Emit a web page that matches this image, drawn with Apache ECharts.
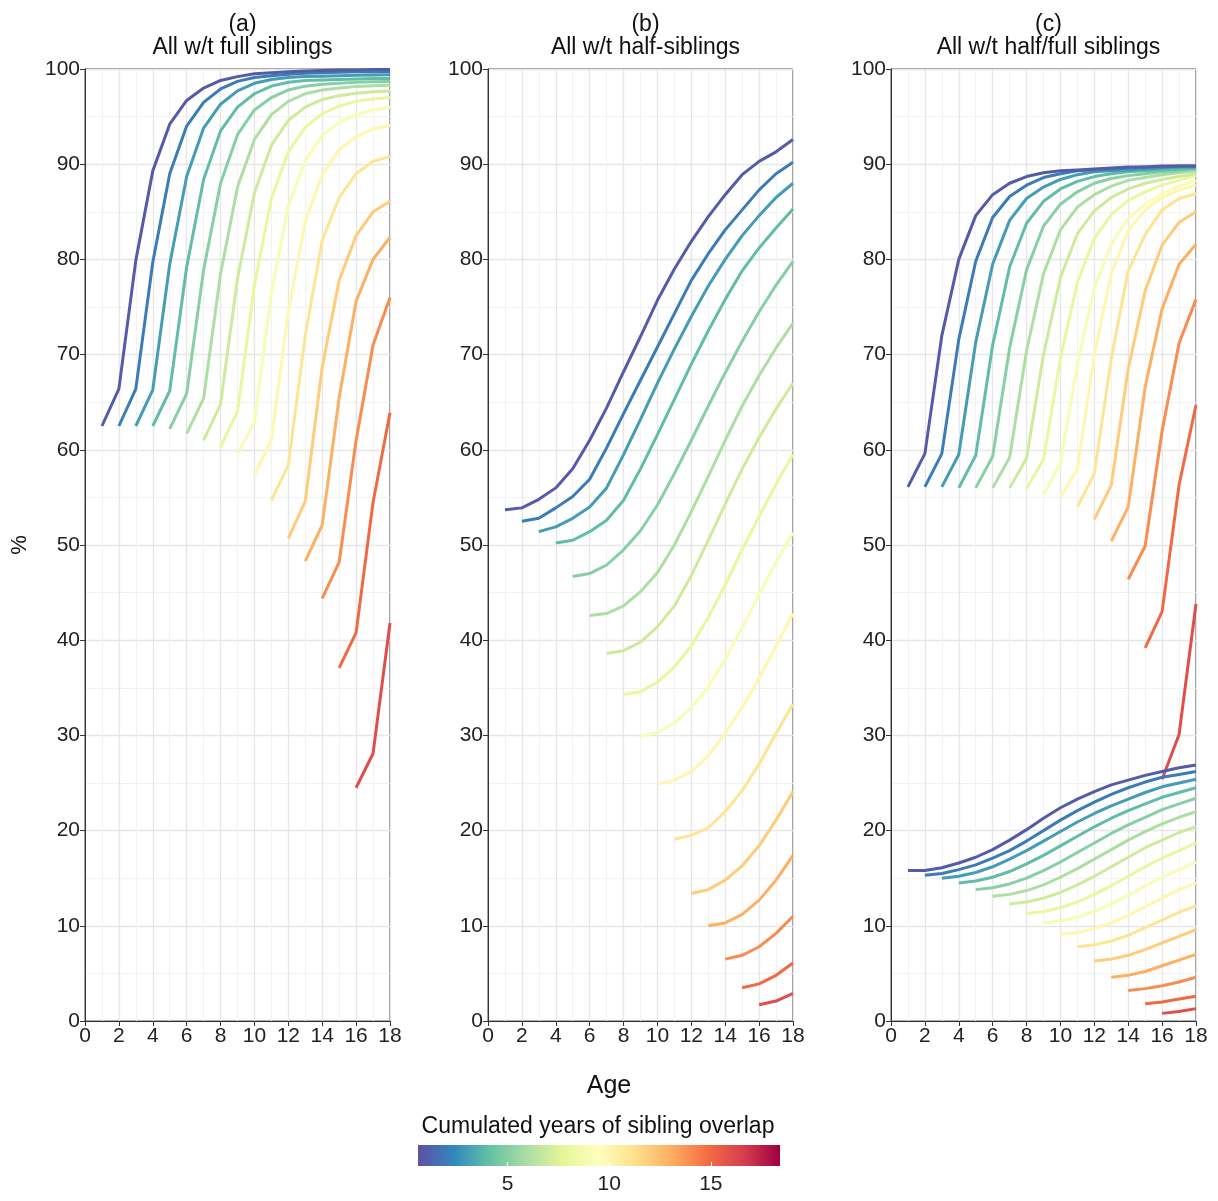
<!DOCTYPE html>
<html><head><meta charset="utf-8">
<script src="https://cdn.jsdelivr.net/npm/echarts@6/dist/echarts.min.js"></script>
<style>html,body{margin:0;padding:0;background:#fff}#c{width:1218px;height:1201px}</style>
</head><body><div id="c"></div>
<script>
// Each series k starts at age k (k = 1..16) and runs to age 18
const panelTitles = [["(a)","All w/t full siblings"],["(b)","All w/t half-siblings"],["(c)","All w/t half/full siblings"]];
const xTicks = [0,2,4,6,8,10,12,14,16,18];
const yTicks = [0,10,20,30,40,50,60,70,80,90,100];
const colorTicks = [5,10,15];

const panelA = [
 [62.5,66.4,79.9,89.3,94.2,96.7,98.0,98.8,99.2,99.5,99.6,99.7,99.8,99.85,99.9,99.9,99.95,99.95],
 [62.5,66.4,79.7,89.0,94.0,96.5,97.9,98.7,99.1,99.3,99.45,99.55,99.6,99.65,99.7,99.72,99.75],
 [62.5,66.3,79.5,88.7,93.8,96.3,97.7,98.5,98.9,99.1,99.2,99.25,99.3,99.35,99.38,99.4],
 [62.5,66.2,79.2,88.4,93.5,96.0,97.4,98.2,98.6,98.8,98.85,98.9,98.95,99.0,99.0],
 [62.2,65.9,78.9,88.0,93.1,95.7,97.0,97.8,98.2,98.4,98.5,98.6,98.65,98.7],
 [61.7,65.4,78.5,87.6,92.6,95.2,96.6,97.4,97.8,98.0,98.15,98.25,98.3],
 [61.0,64.8,78.0,87.0,92.0,94.6,96.0,96.8,97.2,97.45,97.6,97.7],
 [60.3,64.0,77.3,86.4,91.3,93.9,95.3,96.1,96.6,96.85,97.0],
 [59.6,62.9,76.5,85.6,90.4,93.0,94.4,95.2,95.7,96.0],
 [57.3,61.1,74.5,84.0,88.9,91.5,92.9,93.7,94.1],
 [54.7,58.4,72.0,82.0,86.5,89.0,90.3,90.8],
 [50.7,54.6,68.7,77.8,82.5,85.0,86.1],
 [48.3,52.1,65.5,75.6,80.0,82.3],
 [44.4,48.2,61.0,71.0,76.0],
 [37.1,40.8,54.5,63.9],
 [24.5,28.1,41.8]
];
const panelB = [
 [53.7,53.9,54.8,56.0,58.0,61.0,64.4,68.2,71.9,75.7,79.0,81.9,84.5,86.8,88.9,90.3,91.3,92.6],
 [52.5,52.8,53.9,55.1,56.9,60.2,63.8,67.3,70.8,74.3,77.8,80.6,83.1,85.2,87.3,89.0,90.2],
 [51.4,51.9,52.8,54.0,56.0,59.5,63.2,67.0,70.6,74.0,77.2,80.0,82.5,84.6,86.5,88.0],
 [50.2,50.5,51.4,52.6,54.7,58.0,61.6,65.3,69.0,72.5,75.8,78.8,81.2,83.3,85.3],
 [46.7,47.0,47.9,49.5,51.5,54.2,57.5,61.0,64.6,68.1,71.4,74.5,77.3,79.8],
 [42.6,42.8,43.6,45.1,47.1,50.0,53.5,57.2,61.0,64.6,67.8,70.7,73.3],
 [38.6,38.9,39.8,41.4,43.6,46.8,50.5,54.3,58.0,61.3,64.3,67.0],
 [34.3,34.6,35.6,37.2,39.4,42.4,45.8,49.5,53.0,56.4,59.5],
 [29.9,30.3,31.3,32.9,35.1,38.0,41.3,44.8,48.2,51.3],
 [24.9,25.3,26.2,27.9,30.2,32.9,36.0,39.4,42.8],
 [19.1,19.5,20.3,22.0,24.2,27.0,30.2,33.3],
 [13.4,13.8,14.8,16.3,18.4,21.1,24.1],
 [10.0,10.3,11.2,12.7,14.8,17.4],
 [6.5,6.9,7.8,9.2,11.0],
 [3.5,3.9,4.8,6.1],
 [1.7,2.1,2.9]
];
const panelCFull = [
 [56.1,59.6,72.0,80.0,84.6,86.8,88.0,88.7,89.1,89.3,89.4,89.5,89.6,89.7,89.7,89.8,89.8,89.8],
 [56.1,59.6,71.6,79.8,84.4,86.6,87.8,88.6,89.0,89.3,89.4,89.5,89.6,89.7,89.7,89.8,89.8],
 [56.1,59.5,71.3,79.5,84.1,86.4,87.6,88.4,88.9,89.2,89.3,89.4,89.5,89.6,89.7,89.7],
 [56.0,59.4,71.0,79.2,83.8,86.1,87.4,88.2,88.7,89.0,89.2,89.3,89.4,89.5,89.6],
 [56.0,59.3,70.7,78.9,83.5,85.8,87.1,88.0,88.5,88.8,89.0,89.2,89.3,89.5],
 [56.0,59.2,70.4,78.5,83.1,85.5,86.8,87.7,88.3,88.6,88.9,89.1,89.3],
 [56.0,59.1,70.0,78.1,82.7,85.1,86.5,87.4,88.0,88.4,88.7,89.0],
 [55.9,59.0,69.6,77.6,82.2,84.7,86.2,87.1,87.8,88.3,88.8],
 [55.3,58.6,69.0,77.0,81.6,84.3,85.8,86.9,87.7,88.3],
 [55.0,58.0,70.0,78.5,83.0,85.2,86.5,87.3,87.8],
 [54.0,57.5,69.6,78.8,82.6,85.2,86.4,86.9],
 [52.7,56.3,68.5,76.7,81.5,83.9,85.0],
 [50.4,54.0,66.6,74.8,79.5,81.6],
 [46.4,49.9,62.0,71.2,75.8],
 [39.2,43.0,56.3,64.7],
 [25.4,30.1,43.8]
];
const panelCHalf = [
 [15.8,15.8,16.1,16.6,17.2,18.0,19.0,20.1,21.3,22.4,23.3,24.1,24.8,25.3,25.8,26.2,26.6,26.9],
 [15.3,15.5,15.9,16.4,17.1,17.9,18.9,20.0,21.1,22.1,23.0,23.8,24.5,25.1,25.6,25.9,26.2],
 [15.0,15.2,15.6,16.2,17.0,17.9,18.9,19.9,20.9,21.8,22.6,23.3,24.0,24.6,25.0,25.4],
 [14.5,14.7,15.1,15.7,16.5,17.4,18.4,19.4,20.4,21.3,22.1,22.8,23.5,24.0,24.5],
 [13.8,14.0,14.4,15.0,15.8,16.7,17.7,18.7,19.7,20.6,21.4,22.2,22.8,23.4],
 [13.1,13.3,13.7,14.3,15.1,16.0,17.0,18.0,19.0,19.9,20.7,21.4,22.0],
 [12.3,12.5,12.9,13.5,14.3,15.2,16.2,17.2,18.2,19.0,19.8,20.4],
 [11.3,11.5,11.9,12.5,13.3,14.2,15.2,16.2,17.1,17.9,18.7],
 [10.3,10.5,10.9,11.5,12.3,13.2,14.2,15.1,15.9,16.7],
 [9.1,9.3,9.7,10.3,11.1,12.0,12.9,13.8,14.5],
 [7.8,8.0,8.4,9.0,9.8,10.6,11.4,12.1],
 [6.3,6.5,6.9,7.5,8.2,8.9,9.6],
 [4.6,4.8,5.2,5.8,6.4,7.0],
 [3.2,3.4,3.7,4.1,4.6],
 [1.8,2.0,2.3,2.6],
 [0.8,1.0,1.3]
];

const spectral = ['#5E4FA2','#3288BD','#66C2A5','#ABDDA4','#E6F598','#FFFFBF','#FEE08B','#FDAE61','#F46D43','#D53E4F','#9E0142'];
const cMin = 0.6, cMax = 18.4;
function hex(h){return [1,3,5].map(i=>parseInt(h.substr(i,2),16));}
function colorFor(v){
  let t=(v-cMin)/(cMax-cMin); t=Math.max(0,Math.min(1,t));
  const p=t*(spectral.length-1), i=Math.min(spectral.length-2,Math.floor(p)), f=p-i;
  const a=hex(spectral[i]), b=hex(spectral[i+1]);
  return 'rgb('+a.map((x,j)=>Math.round(x+(b[j]-x)*f)).join(',')+')';
}

const FONT='"Liberation Sans", Arial, sans-serif';
const lefts=[85,488,891], W=305, TOP=69, H=952;
const grids=[], xAxes=[], yAxes=[], series=[];
lefts.forEach((l,i)=>{
  grids.push({left:l,top:TOP,width:W,height:H,show:true,borderColor:'#333',borderWidth:1,backgroundColor:'transparent'});
  xAxes.push({type:'value',gridIndex:i,min:0,max:18,interval:2,
    axisLine:{lineStyle:{color:'#333'}},axisTick:{length:5,lineStyle:{color:'#333'}},
    axisLabel:{color:'#222',fontSize:21,fontFamily:FONT,margin:5},
    splitLine:{lineStyle:{color:'#e6e6e6',width:1.3}},
    minorTick:{show:false,splitNumber:2},minorSplitLine:{show:true,lineStyle:{color:'#f2f2f2',width:1}}});
  yAxes.push({type:'value',gridIndex:i,min:0,max:100,interval:10,
    axisLine:{show:true,lineStyle:{color:'#333'}},axisTick:{show:true,length:5,lineStyle:{color:'#333'}},
    axisLabel:{color:'#222',fontSize:21,fontFamily:FONT,margin:5},
    splitLine:{lineStyle:{color:'#e6e6e6',width:1.3}},
    minorTick:{show:false,splitNumber:2},minorSplitLine:{show:true,lineStyle:{color:'#f2f2f2',width:1}}});
});
function addPanel(arrs,gi){
  arrs.forEach((vals,idx)=>{
    const k=idx+1;
    series.push({type:'line',xAxisIndex:gi,yAxisIndex:gi,symbol:'none',silent:true,z:20-k,
      lineStyle:{width:3,color:colorFor(k)},
      data:vals.map((v,j)=>[k+j,v])});
  });
}
addPanel(panelA,0); addPanel(panelB,1); addPanel(panelCFull,2); addPanel(panelCHalf,2);

// colour bar axis
grids.push({left:418,top:1145,width:362,height:21});
xAxes.push({type:'value',gridIndex:3,min:cMin,max:cMax,
  axisLine:{show:false},axisTick:{show:true,length:4,inside:true,lineStyle:{color:'#fff'},customValues:colorTicks},
  axisLabel:{color:'#222',fontSize:21,fontFamily:FONT,margin:8,customValues:colorTicks},splitLine:{show:false}});
yAxes.push({type:'value',gridIndex:3,min:0,max:1,show:false});

const titles=[];
lefts.forEach((l,i)=>{
  titles.push({text:panelTitles[i][0],left:l+W/2,top:8,textAlign:'center',textStyle:{fontSize:23,fontWeight:'normal',color:'#111',fontFamily:FONT}});
  titles.push({text:panelTitles[i][1],left:l+W/2,top:31,textAlign:'center',textStyle:{fontSize:23,fontWeight:'normal',color:'#111',fontFamily:FONT}});
});
titles.push({text:'Age',left:604,top:1069,textAlign:'center',textStyle:{fontSize:25,fontWeight:'normal',color:'#111',fontFamily:FONT}});
titles.push({text:'Cumulated years of sibling overlap',left:593,top:1110,textAlign:'center',textStyle:{fontSize:23,fontWeight:'normal',color:'#111',fontFamily:FONT}});

const stops=spectral.map((c,i)=>({offset:i/(spectral.length-1),color:c}));
const chart=echarts.init(document.getElementById('c'),null,{renderer:'canvas'});
chart.setOption({
  animation:false,backgroundColor:'#fff',
  title:titles,grid:grids,xAxis:xAxes,yAxis:yAxes,series:series,
  graphic:[
    {type:'rect',shape:{x:418,y:1145,width:362,height:21},z:0,style:{fill:new echarts.graphic.LinearGradient(0,0,1,0,stops)}},
    {type:'text',x:20,y:545,rotation:Math.PI/2,style:{text:'%',fontSize:22,fontFamily:FONT,fill:'#111',align:'center',verticalAlign:'middle'}}
  ]
});
</script></body></html>
